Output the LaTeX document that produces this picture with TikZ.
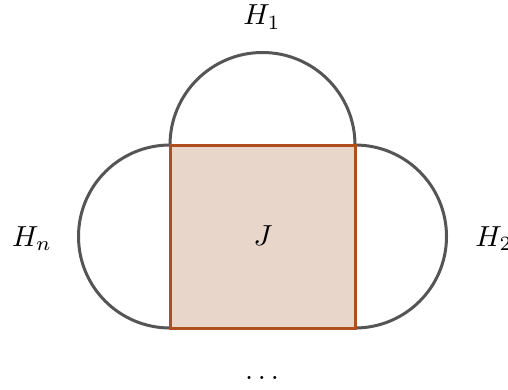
\documentclass[tikz,border=0pt]{standalone}
\usepackage{xcolor}
\definecolor{sqfill}{HTML}{E8D6CB}
\definecolor{sqdraw}{HTML}{B04E1E}
\definecolor{arcgray}{HTML}{555555}
\begin{document}
\begin{tikzpicture}[x=1pt,y=1pt,
  arcline/.style={draw=arcgray,line width=3pt},
  sqline/.style={draw=sqdraw,fill=sqfill,line width=3pt},
  lbl/.style={inner sep=0pt,scale=2.9,anchor=base}]
\useasboundingbox (0,0) rectangle (508,389);
\coordinate (A) at (170,244);
\coordinate (B) at (355,244);
\coordinate (C) at (355,61);
\coordinate (D) at (170,61);
\draw[arcline] (A) arc (180:0:92.5);
\draw[arcline] (A) arc (90:270:91.5);
\draw[arcline] (B) arc (90:-90:91.5);
\draw[sqline] (A) -- (B) -- (C) -- (D) -- cycle;
\node[lbl] (h1) at (262,364) {$H_1$};
\node[lbl] (hn) at (32,143) {$H_n$};
\node[lbl] (h2) at (494,143) {$H_2$};
\node[lbl] (j) at (263,144) {$J$};
\node[lbl] (dots) at (262,10) {$\dots$};
\end{tikzpicture}
\end{document}
